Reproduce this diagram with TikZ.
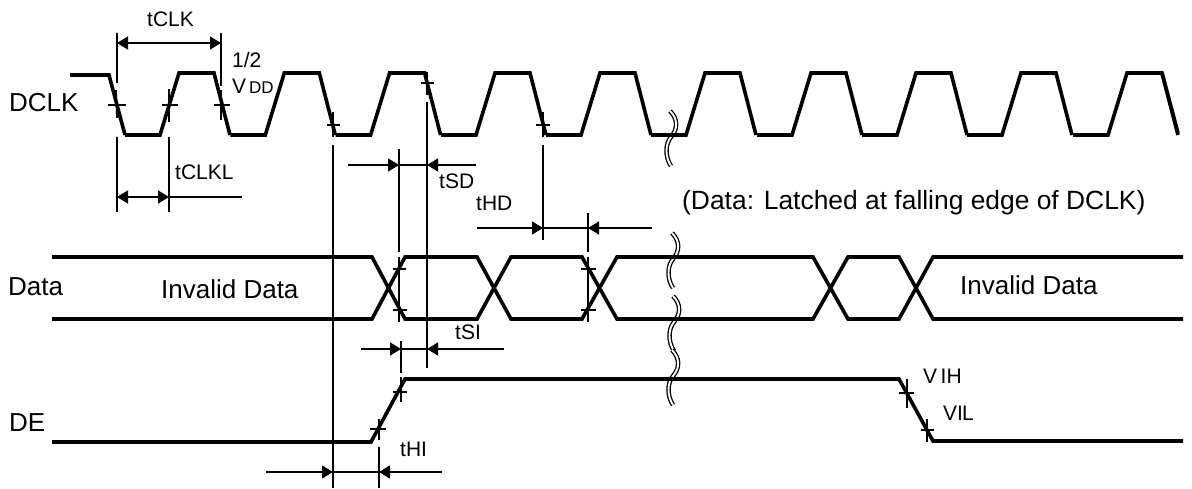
\documentclass[tikz,border=0pt]{standalone}
\usepackage{fontspec}
\setmainfont{Liberation Sans}
\usetikzlibrary{arrows.meta}
\tikzset{wave/.style={line width=3.6pt,line join=miter},
  guide/.style={line width=1.7pt},
  tick/.style={line width=1.3pt},
  dim/.style={line width=1.3pt,{Triangle[length=11pt,width=13pt]}-{Triangle[length=11pt,width=13pt]}},
  dimin/.style={line width=1.3pt,-{Triangle[length=11pt,width=13pt]}},
  brk/.style={line width=1.3pt,double=white,double distance=1.9pt},
  dimtext/.style={inner sep=0pt,anchor=west,font=\fontsize{21}{24}\selectfont},
  sigtext/.style={inner sep=0pt,anchor=west,font=\fontsize{26}{28}\selectfont} }

\begin{document}
\begin{tikzpicture}[x=1pt,y=-1pt]
\useasboundingbox (0,0) rectangle (1192,489);

  % breaks
  \foreach \x/\y in {670/111,672/233,673/296,672/350} {
    \draw[brk] (\x,\y) .. controls (\x+8,\y+8) and (\x+8,\y+18) .. (\x+1,\y+26)
      .. controls (\x-5,\y+33) and (\x-5,\y+46) .. (\x+1,\y+55);
  }

  % clock
  \draw[wave] (70,75) -- (109,75) -- (125,135);
  \foreach \x in {125,230.3,335.6,441,546,651,757,862,967,1073} {
    \draw[wave] (\x,135) -- ++(35,0) -- ++(19,-62) -- ++(35,0) -- ++(16,62);
  }
  \draw[wave] (1162,73) -- (1178,133);

  % data
  \foreach \y/\z in {257/319,319/257} {
    \draw[wave] (52,\y) -- (372,\y) -- (405,\z) -- (477,\z) -- (511,\y) -- (582,\y) -- (617,\z)
      -- (813,\z) -- (848,\y) -- (899,\y) -- (933,\z) -- (1183,\z);
  }

  % enable
  \draw[wave] (52,442) -- (371,442) -- (405,379) -- (899,379) -- (933,441) -- (1183,441);

  % guide lines
  \draw[guide] (117,33) -- (117,83) (116,90) -- (117,118) (117,137) -- (117,212);
  \draw[guide] (169,89) -- (169,122) (169,137) -- (169,212);
  \draw[guide] (221,33) -- (221,86) (221,90) -- (221,120);
  \draw[guide] (333,112) -- (333,137) (333,145) -- (333,488);
  \draw[guide] (427,72) -- (427,95) (427,102) -- (427,368);
  \draw[guide] (399,149) -- (399,252) (399,257) -- (399,322);
  \draw[guide] (401,341) -- (401,373) (401,377) -- (401,402);
  \draw[guide] (543,112) -- (543,137) (543,145) -- (543,240);
  \draw[guide] (588,213) -- (588,252) (588,257) -- (588,322);
  \draw[guide] (379,419) -- (379,440) (379,447) -- (379,488);
  \draw[guide] (907,379) -- (907,408);
  \draw[guide] (927,419) -- (927,442);

  % ticks
  \draw[tick] (108,105) -- (126,105) (162,105) -- (178,105) (214,105) -- (230,105);
  \draw[tick] (327,125) -- (340,125) (421,83) -- (434,83) (536,125) -- (550,125);
  \draw[tick] (393,269) -- (406,269) (393,310) -- (407,310) (581,269) -- (596,269) (581,310) -- (596,310);
  \draw[tick] (393,392) -- (407,392) (370,429) -- (386,429) (899,393) -- (914,393) (921,430) -- (934,430);

  % dimension arrows
  \draw[dim] (117,43) -- (221,43);
  \draw[dim] (117,197) -- (169,197);
  \draw[tick] (169,197) -- (242,197);
  \draw[dimin] (348,165) -- (399,165);
  \draw[dimin] (476,165) -- (427,165);
  \draw[tick] (399,165) -- (427,165);
  \draw[dimin] (477,228) -- (543,228);
  \draw[dimin] (652,228) -- (588,228);
  \draw[tick] (543,228) -- (588,228);
  \draw[dimin] (361,349) -- (401,349);
  \draw[dimin] (504,349) -- (427,349);
  \draw[tick] (401,349) -- (427,349);
  \draw[dimin] (266,472) -- (333,472);
  \draw[dimin] (442,472) -- (379,472);
  \draw[tick] (333,472) -- (379,472);

  % labels
  \node[dimtext] (tclk) at (147,19.5) {tCLK};
  \node[dimtext] (half) at (232,60) {1/2};
  \node[dimtext] (vdd) at (232,86.5) {V{\fontsize{17}{20}\selectfont\,DD}};
  \node[dimtext] (tclkl) at (175,172.5) {tCLKL};
  \node[dimtext] (tsd) at (439,181.5) {tSD};
  \node[dimtext] (thd) at (476,203.5) {tHD};
  \node[dimtext] (tsi) at (455,332) {tSI};
  \node[dimtext] (thi) at (400,449.5) {tHI};
  \node[sigtext,font=\fontsize{26.4}{28}\selectfont] (latch) at (682,203) {(Data: Latched at falling edge of DCLK)};
  \node[sigtext] (dclk) at (9,102.5) {DCLK};
  \node[sigtext] (data) at (8,287) {Data};
  \node[sigtext] (de) at (9,423) {DE};
  \node[sigtext] (inv1) at (161,289) {Invalid Data};
  \node[sigtext] (inv2) at (960,285) {Invalid Data};
  \node[dimtext] (vih) at (923,376) {V\,IH};
  \node[dimtext] (vil) at (943,413.5) {VI\kern-1pt L};
\end{tikzpicture}
\end{document}
